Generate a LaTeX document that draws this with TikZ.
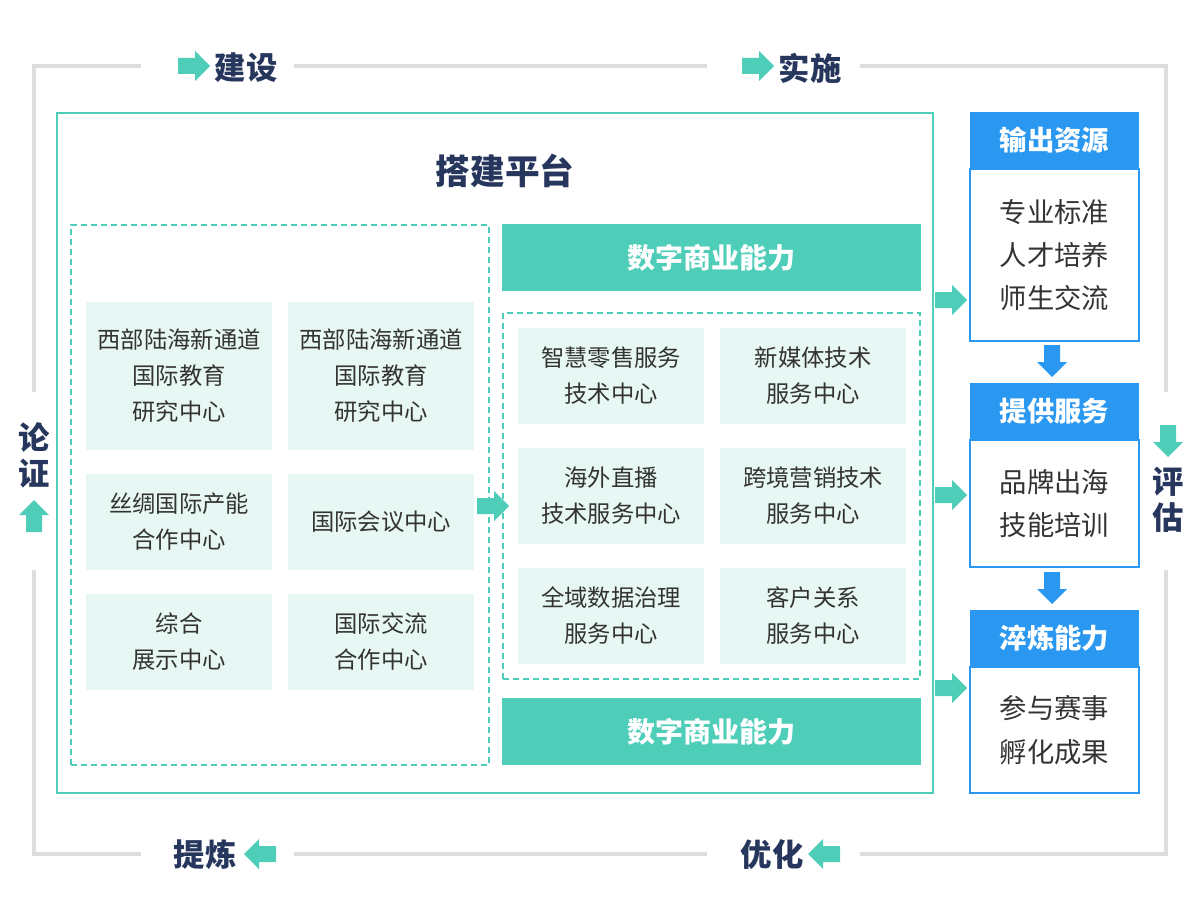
\documentclass[tikz,border=0pt]{standalone}
\usepackage{fontspec}
\setmainfont{Noto Sans CJK SC}
\newdimen\pxu \pxu=0.75pt
\definecolor{tealA}{HTML}{4ECDB9}
\definecolor{mintA}{HTML}{E7F7F4}
\definecolor{blueA}{HTML}{2A97F0}
\definecolor{navyA}{HTML}{27365C}
\definecolor{txtA}{HTML}{333333}
\definecolor{frameA}{HTML}{DDDDDD}
\tikzset{
  cellbox/.style={fill=mintA, minimum width=186\pxu, inner sep=0pt, align=center,
    font=\fontsize{17.5}{27}\selectfont, text=txtA},
  bandbox/.style={fill=tealA, text=white, font=\fontsize{21}{25}\selectfont\bfseries,
    minimum width=419\pxu, minimum height=67\pxu, inner sep=0pt},
  dashbox/.style={draw=tealA, line width=1.5pt, dash pattern=on 4.5pt off 3pt, inner sep=0pt},
  hdrbox/.style={fill=blueA, text=white, font=\fontsize{20.5}{24}\selectfont\bfseries,
    minimum width=169\pxu, minimum height=57\pxu, inner sep=0pt},
  bodybox/.style={draw=blueA, line width=1.5pt, minimum width=169\pxu, align=center, inner sep=0pt,
    font=\fontsize{20.5}{32.5}\selectfont, text=txtA},
  lbl/.style={text=navyA, font=\fontsize{23.5}{28}\selectfont\bfseries, align=center, inner sep=0pt},
  framel/.style={draw=frameA, line width=3pt},
  barrow/.pic={\fill[#1] (-16,-8) -- (1,-8) -- (1,-15) -- (16,0) -- (1,15) -- (1,8) -- (-16,8) -- cycle;}
}
\begin{document}
\begin{tikzpicture}[x=0.75pt,y=-0.75pt]
\useasboundingbox (0,0) rectangle (1200,920);

% outer gray frame (interrupted by labels)
\coordinate (fTL) at (34,66);
\coordinate (fTR) at (1166,66);
\coordinate (fBL) at (34,854);
\coordinate (fBR) at (1166,854);
\draw[framel] (34,392) -- (fTL) -- (141,66);
\draw[framel] (294,66) -- (707,66);
\draw[framel] (860,66) -- (fTR) -- (1166,392);
\draw[framel] (1166,570) -- (fBR) -- (860,854);
\draw[framel] (707,854) -- (294,854);
\draw[framel] (141,854) -- (fBL) -- (34,570);

% frame labels
\node[lbl] (jianshe) at (246,68) {建设};
\pic at (194,66) {barrow=tealA};
\node[lbl] (shishi) at (810,68) {实施};
\pic at (758,66) {barrow=tealA};
\node[lbl] (tilian) at (205,855) {提炼};
\pic[rotate=180] at (260,854) {barrow=tealA};
\node[lbl] (youhua) at (772,855) {优化};
\pic[rotate=180] at (824,854) {barrow=tealA};
\node[lbl, font=\fontsize{23.5}{27}\selectfont\bfseries] (lunzheng) at (34,455) {论\\证};
\pic[rotate=90] at (34,516) {barrow=tealA};
\node[lbl, font=\fontsize{23.5}{27}\selectfont\bfseries] (pinggu) at (1168,500) {评\\估};
\pic[rotate=-90] at (1168,441) {barrow=tealA};

% main platform box
\node[draw=tealA, line width=1.8pt, minimum width=876\pxu, minimum height=680\pxu, inner sep=0pt] (platform) at (495,453) {};
\node[text=navyA, font=\fontsize{26}{30}\selectfont\bfseries] (title) at (505,171) {搭建平台};

% left dashed group
\node[dashbox, minimum width=418\pxu, minimum height=540\pxu] (leftgrp) at (280,495) {};
\node[cellbox, minimum height=148\pxu] (L1) at (179,376) {西部陆海新通道\\国际教育\\研究中心};
\node[cellbox, minimum height=148\pxu] (L2) at (381,376) {西部陆海新通道\\国际教育\\研究中心};
\node[cellbox, minimum height=96\pxu] (L3) at (179,522) {丝绸国际产能\\合作中心};
\node[cellbox, minimum height=96\pxu] (L4) at (381,522) {国际会议中心};
\node[cellbox, minimum height=96\pxu] (L5) at (179,642) {综合\\展示中心};
\node[cellbox, minimum height=96\pxu] (L6) at (381,642) {国际交流\\合作中心};

% right part
\node[bandbox] (band1) at (711.5,257.5) {数字商业能力};
\node[bandbox] (band2) at (711.5,731.5) {数字商业能力};
\node[dashbox, minimum width=417\pxu, minimum height=366\pxu] (rightgrp) at (711.5,496) {};
\node[cellbox, minimum height=96\pxu] (R1) at (611,376) {智慧零售服务\\技术中心};
\node[cellbox, minimum height=96\pxu] (R2) at (813,376) {新媒体技术\\服务中心};
\node[cellbox, minimum height=96\pxu] (R3) at (611,496) {海外直播\\技术服务中心};
\node[cellbox, minimum height=96\pxu] (R4) at (813,496) {跨境营销技术\\服务中心};
\node[cellbox, minimum height=96\pxu] (R5) at (611,616) {全域数据治理\\服务中心};
\node[cellbox, minimum height=96\pxu] (R6) at (813,616) {客户关系\\服务中心};

% arrow between groups
\pic at (493,506) {barrow=tealA};

% right column
\node[hdrbox] (h1) at (1054.5,140.5) {输出资源};
\node[bodybox, minimum height=172\pxu] (b1) at (1054.5,255) {专业标准\\人才培养\\师生交流};
\node[hdrbox] (h2) at (1054.5,411.5) {提供服务};
\node[bodybox, minimum height=127\pxu] (b2) at (1054.5,503.5) {品牌出海\\技能培训};
\node[hdrbox] (h3) at (1054.5,638.5) {淬炼能力};
\node[bodybox, minimum height=126\pxu] (b3) at (1054.5,730) {参与赛事\\孵化成果};

% arrows
\pic[rotate=-90] at (1052,361) {barrow=blueA};
\pic[rotate=-90] at (1052,588) {barrow=blueA};
\pic at (951,300) {barrow=tealA};
\pic at (951,495) {barrow=tealA};
\pic at (951,688) {barrow=tealA};
\end{tikzpicture}
\end{document}
